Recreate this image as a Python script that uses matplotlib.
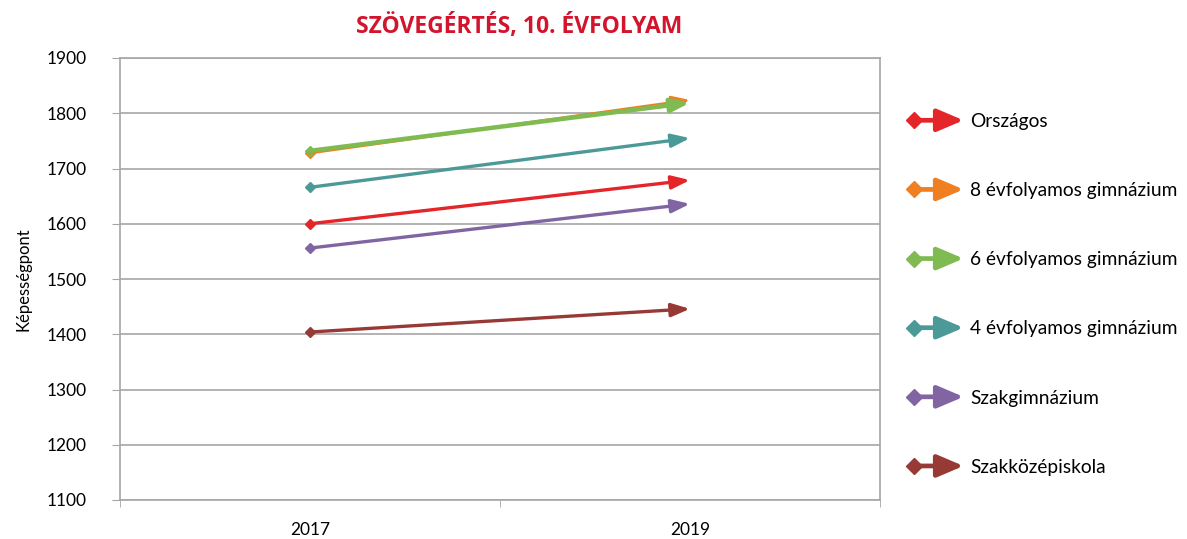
import matplotlib
matplotlib.use("Agg")
import matplotlib.pyplot as plt
from matplotlib.patches import FancyArrowPatch
from matplotlib.lines import Line2D
from matplotlib.legend_handler import HandlerBase

plt.rcParams['font.family'] = ['Lato', 'DejaVu Sans']

years = ['2017', '2019']
series = ['Országos', '8 évfolyamos gimnázium', '6 évfolyamos gimnázium',
          '4 évfolyamos gimnázium', 'Szakgimnázium', 'Szakközépiskola']
v2017 = [1600, 1728, 1732, 1666, 1556, 1404]
v2019 = [1679, 1824, 1819, 1755, 1636, 1446]
colors = ['#e4262a', '#f07f21', '#7fbb51', '#4b9a97', '#8165a3', '#973a36']
widths = [2.4, 2.0, 3.2, 2.4, 2.4, 2.4]
yticks = [1100, 1200, 1300, 1400, 1500, 1600, 1700, 1800, 1900]

W, H = 1187, 539
fig = plt.figure(figsize=(W / 100, H / 100), dpi=100)
ax = fig.add_axes([120 / W, 1 - 500 / H, 760 / W, 442 / H])

grid_c = '#a6a6a6'
ax.set_xlim(-0.5, 1.5)
ax.set_ylim(1100, 1900)
ax.set_yticks(yticks)
ax.set_yticklabels([str(t) for t in yticks], fontsize=12.5)
ax.set_xticks([0, 1])
ax.set_xticklabels(years, fontsize=12.5)
ax.set_xticks([-0.5, 0.5, 1.5], minor=True)
ax.tick_params(axis='x', which='major', length=0, pad=16)
ax.tick_params(axis='x', which='minor', length=5, color=grid_c, direction='out')
ax.tick_params(axis='y', length=6, color=grid_c, direction='out', pad=18)
ax.yaxis.grid(True, color=grid_c, lw=1.2)
ax.set_axisbelow(True)
for s in ax.spines.values():
    s.set_color(grid_c)
    s.set_linewidth(1.2)
ax.set_ylabel('Képességpont', fontsize=12, labelpad=11)

for i, name in enumerate(series):
    c = colors[i]
    lw = widths[i]
    ax.annotate('', xy=(1, v2019[i]), xytext=(0, v2017[i]),
                arrowprops=dict(arrowstyle='-|>,head_length=0.55,head_width=0.2',
                                color=c, lw=lw, shrinkA=0, shrinkB=0,
                                mutation_scale=20), zorder=3 + i * 0.01)
    ax.plot([0], [v2017[i]], marker='D', ms=5, color=c, zorder=3)


class ArrowHandler(HandlerBase):
    def create_artists(self, legend, orig_handle, xdescent, ydescent,
                       width, height, fontsize, trans):
        c = orig_handle.get_color()
        y = height / 2 - ydescent
        x0 = -xdescent
        x1 = -xdescent + width
        arr = FancyArrowPatch((x0 + 4, y), (x1, y),
                              arrowstyle='-|>,head_length=0.8,head_width=0.34',
                              color=c, lw=3.4, shrinkA=0, shrinkB=0,
                              mutation_scale=20, transform=trans)
        d = Line2D([x0 + 5], [y], marker='D', ms=8, color=c, ls='none',
                   transform=trans)
        return [arr, d]


handles = [Line2D([], [], color=colors[i], label=series[i]) for i in range(len(series))]
leg = fig.legend(handles=handles, loc='upper left',
                 bbox_to_anchor=(907 / W, 1 - 113 / H),
                 frameon=False, fontsize=13.8, handlelength=2.95,
                 handletextpad=0.35, labelspacing=2.72,
                 handler_map={Line2D: ArrowHandler()}, borderaxespad=0,
                 borderpad=0)

fig.text(519 / W, 1 - 27 / H, 'SZÖVEGÉRTÉS, 10. ÉVFOLYAM', ha='center', va='center',
         fontsize=16.5, fontweight='bold', color='#d2142c',
         family=['Open Sans', 'DejaVu Sans'])

fig.savefig('out.png', dpi=100)
